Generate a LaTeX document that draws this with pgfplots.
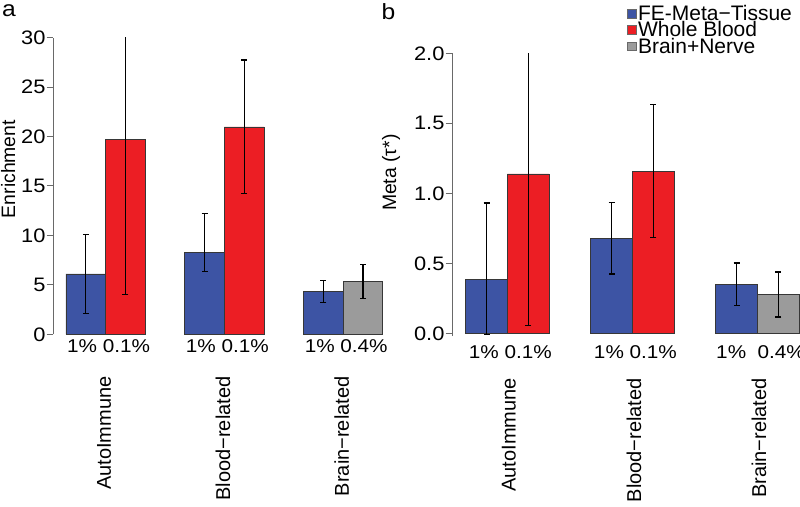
\documentclass[border=0pt]{standalone}
\usepackage{fontspec}
\setmainfont{Liberation Sans}[FakeStretch=1.12]
\newfontfamily\rotfont{Liberation Sans}
\usepackage{pgfplots}
\pgfplotsset{compat=1.18}

\definecolor{fetblue}{RGB}{61,84,164}
\definecolor{wbred}{RGB}{236,30,36}
\definecolor{bngray}{RGB}{155,155,155}
\definecolor{bardraw}{RGB}{55,55,55}
\definecolor{axgray}{RGB}{105,105,105}

\newcommand{\tickfont}{\fontsize{19.5bp}{21bp}\selectfont}
\newcommand{\pctfont}{\fontsize{18.5bp}{20bp}\selectfont}
\newcommand{\catfont}{\rotfont\fontsize{20bp}{22bp}\selectfont}

\tikzset{catlabel/.style={rotate=90, anchor=east, inner sep=0pt, font=\catfont}}

\pgfplotsset{
  rpanel/.style={
    scale only axis,
    xmin=0.68,
    axis y line*=left,
    axis x line*=bottom,
    x axis line style={draw=none},
    y axis line style={draw=axgray, line width=1bp},
    ytick style={draw=axgray, line width=1bp},
    tick align=outside,
    major tick length=6.7bp,
    xtick={2,5,8},
    major x tick style={draw=none},
    /pgf/number format/assume math mode=true,
    yticklabel style={font=\tickfont, inner sep=1bp},
    xticklabel style={font=\pctfont, anchor=north, inner sep=0pt, xshift=3bp},
    ylabel style={font=\rotfont\fontsize{19.4bp}{21bp}\selectfont, anchor=center},
    error bars/error bar style={line width=1.3bp, black},
    error bars/error mark options={rotate=90, mark size=3bp, line width=1.3bp, black},
  },
  bars/.style={ybar, bar width=1, bar shift=0pt, draw=bardraw, line width=0.8bp,
    error bars/y dir=both, error bars/y explicit},
}

\begin{document}
\begin{tikzpicture}
\path[use as bounding box] (0,0) rectangle (800bp,507bp);

\node[anchor=base west, inner sep=0pt, font=\fontsize{22bp}{24bp}\selectfont] at (2bp,490.5bp) {a};
\node[anchor=base west, inner sep=0pt, font=\fontsize{22bp}{24bp}\selectfont] at (381.5bp,487bp) {b};

% panel a: enrichment
\begin{axis}[rpanel,
  at={(53.3bp,172.7bp)}, anchor=south west,
  width=342.2bp, height=296.6bp,
  xmax=9.32, ymin=0, ymax=30,
  ytick={0,5,...,30},
  xticklabels={1\% 0.1\%,1\% 0.1\%,1\% 0.4\%},
  xticklabel style={yshift=2bp},
  ylabel={Enrichment},
  ylabel style={at={(rel axis cs:-0.132,0.557)}},
]
\addplot[bars, fill=fetblue] coordinates {
  (1.5,6.10) += (0,4.00) -= (0,4.00)
  (4.5,8.32) += (0,3.88) -= (0,1.95)
  (7.5,4.35) += (0,1.07) -= (0,1.11)
};
\addplot[bars, fill=wbred] coordinates {
  (2.5,19.75) += (0,14.25) -= (0,15.70)
  (5.5,20.97) += (0,6.77) -= (0,6.71)
};
\addplot[bars, fill=bngray] coordinates {
  (8.5,5.36) += (0,1.72) -= (0,1.76)
};
\coordinate (La) at (axis cs:2,0);
\coordinate (Lb) at (axis cs:5,0);
\coordinate (Lc) at (axis cs:8,0);
\end{axis}
\path (La) ++(-1.5bp,-42bp) node[catlabel] {AutoImmune};
\path (Lb) ++(-1.5bp,-42bp) node[catlabel] {Blood−related};
\path (Lc) ++(-1.5bp,-42bp) node[catlabel] {Brain−related};

% panel b: meta tau
\begin{axis}[rpanel,
  at={(452.3bp,170.9bp)}, anchor=south west,
  width=347.8bp, height=282.8bp,
  xmax=9.02, ymin=-0.02, ymax=2,
  ytick={0,0.5,...,2},
  yticklabel style={/pgf/number format/.cd, fixed, fixed zerofill, precision=1},
  xticklabels={1\% 0.1\%,1\% 0.1\%,1\%\ \ 0.4\%},
  xticklabel style={yshift=-3bp},
  ylabel={Meta (τ*)},
  ylabel style={at={(rel axis cs:-0.176,0.578)}},
  legend style={at={(rel axis cs:0.503,1.175)}, anchor=north west,
    draw=none, fill=none, inner sep=0pt, row sep=-3.5bp,
    font=\rotfont\fontsize{21bp}{22bp}\selectfont, nodes={inner sep=1.5bp}},
  legend cell align=left,
]
\addplot[bars, fill=fetblue,
  legend image code/.code={\draw[fill=fetblue, draw=axgray, line width=0.8bp] (0bp,-4.2bp) rectangle (8.3bp,4.2bp);}]
  coordinates {
  (1.5,0.386) += (0,0.544) -= (0,0.396)
  (4.5,0.676) += (0,0.257) -= (0,0.252)
  (7.5,0.350) += (0,0.152) -= (0,0.153)
};
\addlegendentry{FE-Meta−Tissue}
\addplot[bars, fill=wbred,
  legend image code/.code={\draw[fill=wbred, draw=axgray, line width=0.8bp] (0bp,-4.2bp) rectangle (8.3bp,4.2bp);}]
  coordinates {
  (2.5,1.138) += (0,1.062) -= (0,1.084)
  (5.5,1.159) += (0,0.477) -= (0,0.476)
};
\addlegendentry{Whole Blood}
\addplot[bars, fill=bngray,
  legend image code/.code={\draw[fill=bngray, draw=axgray, line width=0.8bp] (0bp,-4.2bp) rectangle (8.3bp,4.2bp);}]
  coordinates {
  (8.5,0.279) += (0,0.159) -= (0,0.163)
};
\addlegendentry{Brain+Nerve}
\coordinate (Ra) at (axis cs:2,-0.02);
\coordinate (Rb) at (axis cs:5,-0.02);
\coordinate (Rc) at (axis cs:8,-0.02);
\end{axis}
\path (Ra) ++(1.5bp,-42bp) node[catlabel] {AutoImmune};
\path (Rb) ++(1.5bp,-42bp) node[catlabel] {Blood−related};
\path (Rc) ++(1.5bp,-42bp) node[catlabel] {Brain−related};
\end{tikzpicture}
\end{document}
